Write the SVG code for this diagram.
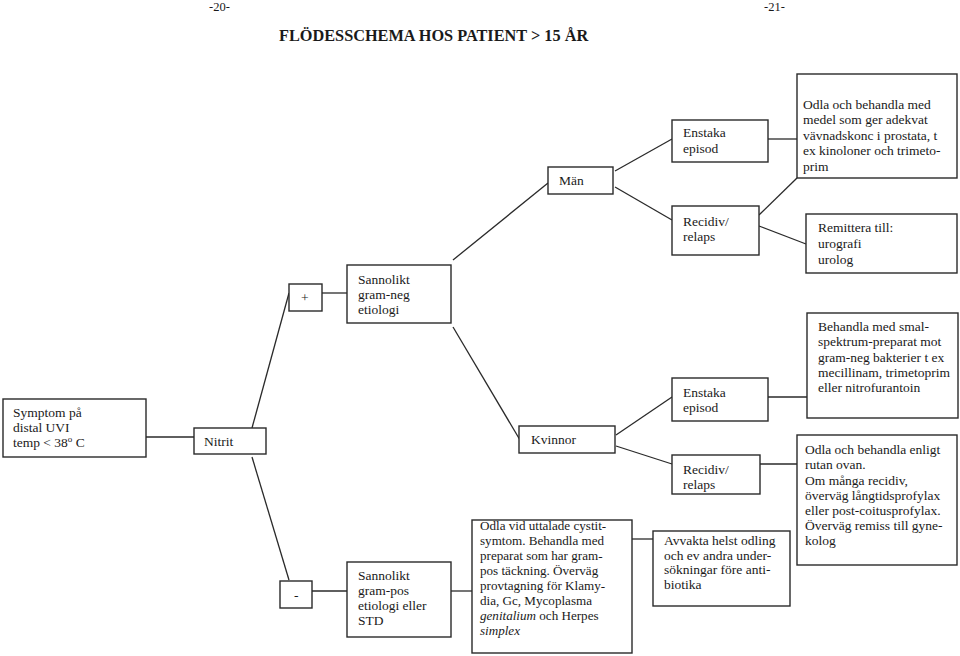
<svg xmlns="http://www.w3.org/2000/svg" width="960" height="656" viewBox="0 0 960 656">
<style>
.b{fill:#fff;stroke:#2a2a2a;stroke-width:1.4}
.c line{stroke:#2a2a2a;stroke-width:1.3}
text{font-family:"Liberation Serif","Times New Roman",serif;font-size:13.5px;fill:#1a1a1a}
.t{font-size:16.3px;font-weight:bold}
.p{font-size:12.5px}
.s{font-size:13.1px}
.i{font-style:italic}
</style>
<rect width="960" height="656" fill="#fff"/>
<text class="p" x="209" y="11">-20-</text>
<text class="p" x="764" y="11">-21-</text>
<text class="t" x="279" y="41">FLÖDESSCHEMA HOS PATIENT &gt; 15 ÅR</text>
<g class="c" id="connectors">
<line x1="146" y1="437" x2="194" y2="437"/>
<line x1="252" y1="428" x2="289" y2="293"/>
<line x1="252" y1="457" x2="289" y2="580"/>
<line x1="318" y1="293" x2="347" y2="293"/>
<line x1="310" y1="591" x2="347" y2="591"/>
<line x1="451" y1="591" x2="472" y2="591"/>
<line x1="453" y1="260" x2="548" y2="183"/>
<line x1="453" y1="327" x2="520" y2="440"/>
<line x1="615" y1="171" x2="672" y2="139"/>
<line x1="615" y1="187" x2="672" y2="220"/>
<line x1="768" y1="139" x2="797" y2="139"/>
<line x1="759" y1="215" x2="797" y2="178"/>
<line x1="759" y1="226" x2="806" y2="244"/>
<line x1="616" y1="435" x2="672" y2="397"/>
<line x1="616" y1="446" x2="672" y2="464"/>
<line x1="768" y1="397" x2="807" y2="397"/>
<line x1="759" y1="464" x2="797" y2="464"/>
<line x1="632" y1="539" x2="653" y2="539"/>
</g>
<g id="symptom"><rect class="b" x="3" y="399" width="143" height="58"/>
<text x="13" y="417">Symptom på</text><text x="13" y="432">distal  UVI</text><text x="13" y="447">temp &lt; 38<tspan dy="-5" font-size="9">o</tspan><tspan dy="5"> C</tspan></text></g>
<g id="nitrit"><rect class="b" x="194" y="428" width="72" height="26"/><text x="204" y="446">Nitrit</text></g>
<g id="plus"><rect class="b" x="289" y="284" width="33" height="27"/><text x="301" y="302">+</text></g>
<g id="minus"><rect class="b" x="280" y="581" width="32" height="27"/><text x="294" y="600">-</text></g>
<g id="gramneg"><rect class="b" x="347" y="265" width="104" height="58"/>
<text x="358" y="284">Sannolikt</text><text x="358" y="299">gram-neg</text><text x="358" y="314">etiologi</text></g>
<g id="grampos"><rect class="b" x="347" y="562" width="104" height="75"/>
<text x="358" y="580">Sannolikt</text><text x="358" y="595">gram-pos</text><text x="358" y="610">etiologi eller</text><text x="358" y="625">STD</text></g>
<g id="man"><rect class="b" x="548" y="167" width="65" height="27"/><text x="559" y="185">Män</text></g>
<g id="kvinnor"><rect class="b" x="519" y="426" width="96" height="27"/><text x="531" y="444">Kvinnor</text></g>
<g id="enstaka1"><rect class="b" x="672" y="120" width="96" height="42"/><text x="683" y="137">Enstaka</text><text x="683" y="153">episod</text></g>
<g id="recidiv1"><rect class="b" x="672" y="206" width="87" height="49"/><text x="683" y="226">Recidiv/</text><text x="683" y="241">relaps</text></g>
<g id="enstaka2"><rect class="b" x="672" y="378" width="96" height="43"/><text x="683" y="397">Enstaka</text><text x="683" y="412">episod</text></g>
<g id="recidiv2"><rect class="b" x="672" y="455" width="88" height="39"/><text x="683" y="474">Recidiv/</text><text x="683" y="489">relaps</text></g>
<g id="odlaman"><rect class="b" x="797" y="74" width="160" height="104"/>
<text x="803" y="109">Odla och behandla med</text><text x="803" y="124">medel som ger adekvat</text><text x="803" y="140">vävnadskonc i prostata,  t</text><text x="803" y="155">ex kinoloner och trimeto-</text><text x="803" y="171">prim</text></g>
<g id="remittera"><rect class="b" x="806" y="214" width="151" height="59"/>
<text x="818" y="232">Remittera till:</text><text x="818" y="248">urografi</text><text x="818" y="264">urolog</text></g>
<g id="behandla"><rect class="b" x="807" y="313" width="151" height="105"/>
<text x="818" y="331">Behandla med smal-</text><text x="818" y="346">spektrum-preparat  mot</text><text x="818" y="362">gram-neg bakterier t ex</text><text x="818" y="377">mecillinam, trimetoprim</text><text x="818" y="392">eller nitrofurantoin</text></g>
<g id="odlaenligt"><rect class="b" x="797" y="435" width="160" height="130"/>
<text x="805" y="454">Odla och behandla enligt</text><text x="805" y="469">rutan ovan.</text><text x="805" y="485">Om många recidiv,</text><text x="805" y="500">överväg långtidsprofylax</text><text x="805" y="515">eller post-coitusprofylax.</text><text x="805" y="530">Överväg remiss till gyne-</text><text x="805" y="545">kolog</text></g>
<g id="odlavid" class="s"><rect class="b" x="472" y="520" width="160" height="133"/>
<text class="s" x="480" y="530">Odla vid uttalade cystit-</text><text class="s" x="480" y="545">symtom. Behandla med</text><text class="s" x="480" y="560">preparat som har gram-</text><text class="s" x="480" y="575">pos täckning. Överväg</text><text class="s" x="480" y="590">provtagning för Klamy-</text><text class="s" x="480" y="605">dia, Gc, Mycoplasma</text><text class="s" x="480" y="620"><tspan class="i">genitalium</tspan> och Herpes</text><text class="s i" x="480" y="635">simplex</text></g>
<g id="avvakta"><rect class="b" x="653" y="531" width="137" height="75"/>
<text x="664" y="545">Avvakta helst odling</text><text x="664" y="560">och ev andra under-</text><text x="664" y="574">sökningar före anti-</text><text x="664" y="589">biotika</text></g>
</svg>
